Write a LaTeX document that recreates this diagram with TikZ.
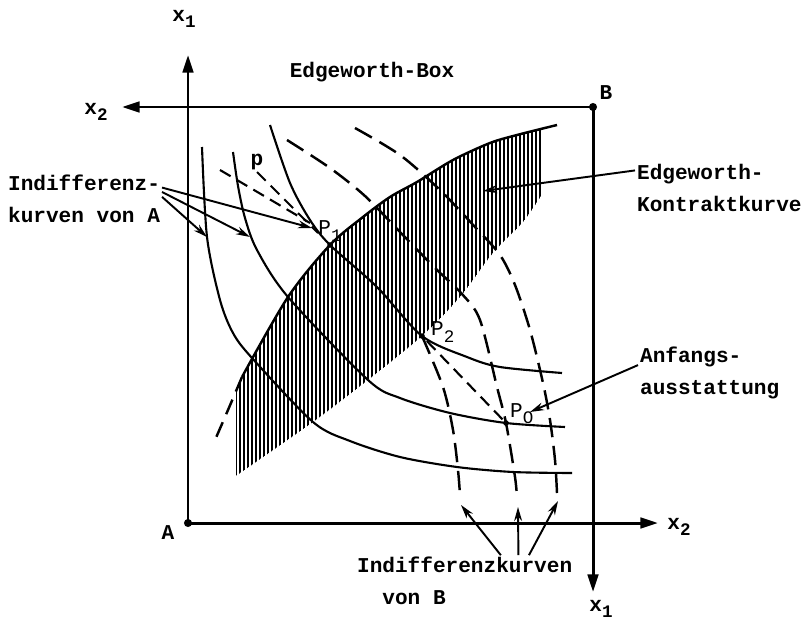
\documentclass[tikz,border=0pt]{standalone}
\usepackage{fontspec}
\setmainfont{Liberation Mono}
\usetikzlibrary{arrows.meta}
\newcommand{\idx}[1]{\raisebox{-0.55ex}{\fontsize{10}{10}\selectfont#1}}

\begin{document}
\begin{tikzpicture}[x=0.02cm,y=0.02cm,
  txt/.style={font=\fontsize{12}{18}\selectfont\bfseries,inner sep=1pt},
  eje/.style={line width=1.7pt,-{Triangle[length=10pt,width=6pt]}},
  curvaA/.style={line width=1.2pt},
  curvaB/.style={line width=1.4pt,dash pattern=on 11pt off 5pt},
  precio/.style={line width=1.2pt,dash pattern=on 7pt off 4pt},
  flecha/.style={line width=1.1pt,-{Stealth[length=8pt,width=4.5pt]}}]
  \useasboundingbox (0,0) rectangle (810,623);

  % Origenes y ejes de la caja
  \coordinate (A) at (188,100);
  \coordinate (B) at (593,516);
  \coordinate (Aarr) at (188,568);
  \coordinate (Ader) at (658,100);
  \coordinate (Bizq) at (122,516);
  \coordinate (Babj) at (593,31);
  \draw[eje] (A) -- (Aarr);
  \draw[eje] (A) -- (Ader);
  \draw[eje] (B) -- (Bizq);
  \draw[eje] (B) -- (Babj);
  \fill (A) circle (2.3pt);
  \fill (B) circle (2.3pt);

  \node[txt] (lxA1) at (184,604) {x\idx{1}};
  \node[txt] (lxB2) at (96,511) {x\idx{2}};
  \node[txt] (lxA2) at (679,96) {x\idx{2}};
  \node[txt] (lxB1) at (601,14) {x\idx{1}};
  \node[txt] (lA) at (168,90) {A};
  \node[txt] (lB) at (606,530) {B};
  \node[txt] (titulo) at (372,551) {Edgeworth-Box};

  % Zona rayada (curva de contrato)
  \begin{scope}
    \clip (236,0) rectangle (543,623);
    \clip plot[smooth] coordinates {(215,183) (242,246) (288,326) (330,378)
      (363,406) (390,426) (417,441) (453,463) (490,480) (517,488) (557,498)}
      -- (557,0) -- (215,0) -- cycle;
    \clip plot[smooth] coordinates {(233,145) (313,201) (368,243) (422,287)
      (460,326) (493,370) (523,401) (543,430)} -- (543,623) -- (233,623) -- cycle;
    \foreach \x in {236,240,...,542} {
      \draw[line width=0.6pt] (\x,100) -- (\x,520);
    }
  \end{scope}
  \draw[line width=1.4pt] plot[smooth] coordinates {(242,246) (288,326) (330,378)
    (363,406) (390,426) (417,441) (453,463) (490,480) (517,488) (557,498)};
  \draw[line width=1.4pt,dash pattern=on 9pt off 5pt] plot[smooth] coordinates
    {(242,246) (228,213) (215,183)};

  % Curvas de indiferencia de A
  \draw[curvaA] plot[smooth] coordinates {(202,476) (207,386) (220,323) (233,290)
    (252,265) (313,201) (350,182) (400,166) (457,156) (513,151) (572,150)};
  \draw[curvaA] plot[smooth] coordinates {(233,471) (238,437) (245,405) (257,373)
    (288,326) (368,243) (400,225) (450,210) (506,200) (565,196)};
  \draw[curvaA] plot[smooth] coordinates {(270,498) (290,440) (310,403) (330,378)
    (377,336) (422,287) (467,266) (500,256) (562,250)};

  % Curvas de indiferencia de B
  \draw[curvaB] plot[smooth] coordinates {(422,287) (443,236) (453,193) (458,153)
    (460,128)};
  \draw[curvaB] plot[smooth] coordinates {(287,483) (330,455) (365,427) (400,391)
    (435,355) (462,329) (480,303) (497,236) (506,200) (515,146) (517,125)};
  \draw[curvaB] plot[smooth] coordinates {(355,495) (400,468) (440,433) (475,396)
    (500,368) (515,338) (530,293) (543,240) (550,203) (555,163) (557,130)};

  % Puntos
  \coordinate (P1) at (330,378);
  \coordinate (P2) at (422,287);
  \coordinate (P0) at (506,200);
  \coordinate (pa) at (220,453);
  \coordinate (pb) at (257,451);
  \draw[precio] (pa) -- (310,400);
  \draw[precio] (pb) -- (318,390);
  \draw[precio,shorten <=4pt] (P2) -- (P0);
  \fill (P1) circle (1.6pt);
  \fill (P2) circle (1.6pt);
  \fill (P0) circle (1.6pt);

  \node[txt] (lp) at (257,461) {p};
  \node[txt,font=\fontsize{12}{18}\selectfont] (lP1) at (330,392) {P\idx{1}};
  \node[txt,font=\fontsize{12}{18}\selectfont,anchor=west] (lP2) at (429,291) {P\idx{2}};
  \node[txt,font=\fontsize{12}{18}\selectfont,anchor=west] (lP0) at (508,209) {P\idx{O}};

  % Leyendas con flechas
  \node[txt,align=left,anchor=west] (indA) at (6,424) {Indifferenz-\\kurven von A};
  \coordinate (tA1) at (312,395);
  \coordinate (tA2) at (250,386);
  \coordinate (tA3) at (207,386);
  \draw[flecha] ([yshift=6.5pt]indA.east) -- (tA1);
  \draw[flecha] ([yshift=4pt]indA.east) -- (tA2);
  \draw[flecha] ([yshift=1.2pt]indA.east) -- (tA3);

  \node[txt,align=left,anchor=west] (kontrakt) at (635,435) {Edgeworth-\\Kontraktkurve};
  \coordinate (tK) at (483,432);
  \draw[flecha] ([yshift=10pt]kontrakt.west) -- (tK);

  \node[txt,align=left,anchor=west] (anfang) at (638,250) {Anfangs-\\ausstattung};
  \coordinate (tP0) at (530,211);
  \draw[flecha] ([yshift=4.5pt]anfang.west) -- (tP0);

  \node[txt,align=left,anchor=west] (indB) at (355,42) {Indifferenzkurven\\\phantom{In}von B};
  \coordinate (tB1) at (461,118);
  \coordinate (tB2) at (518,116);
  \coordinate (tB3) at (558,122);
  \draw[flecha] ([xshift=83pt]indB.north west) -- (tB1);
  \draw[flecha] ([xshift=93pt]indB.north west) -- (tB2);
  \draw[flecha] ([xshift=99pt]indB.north west) -- (tB3);
\end{tikzpicture}
\end{document}
